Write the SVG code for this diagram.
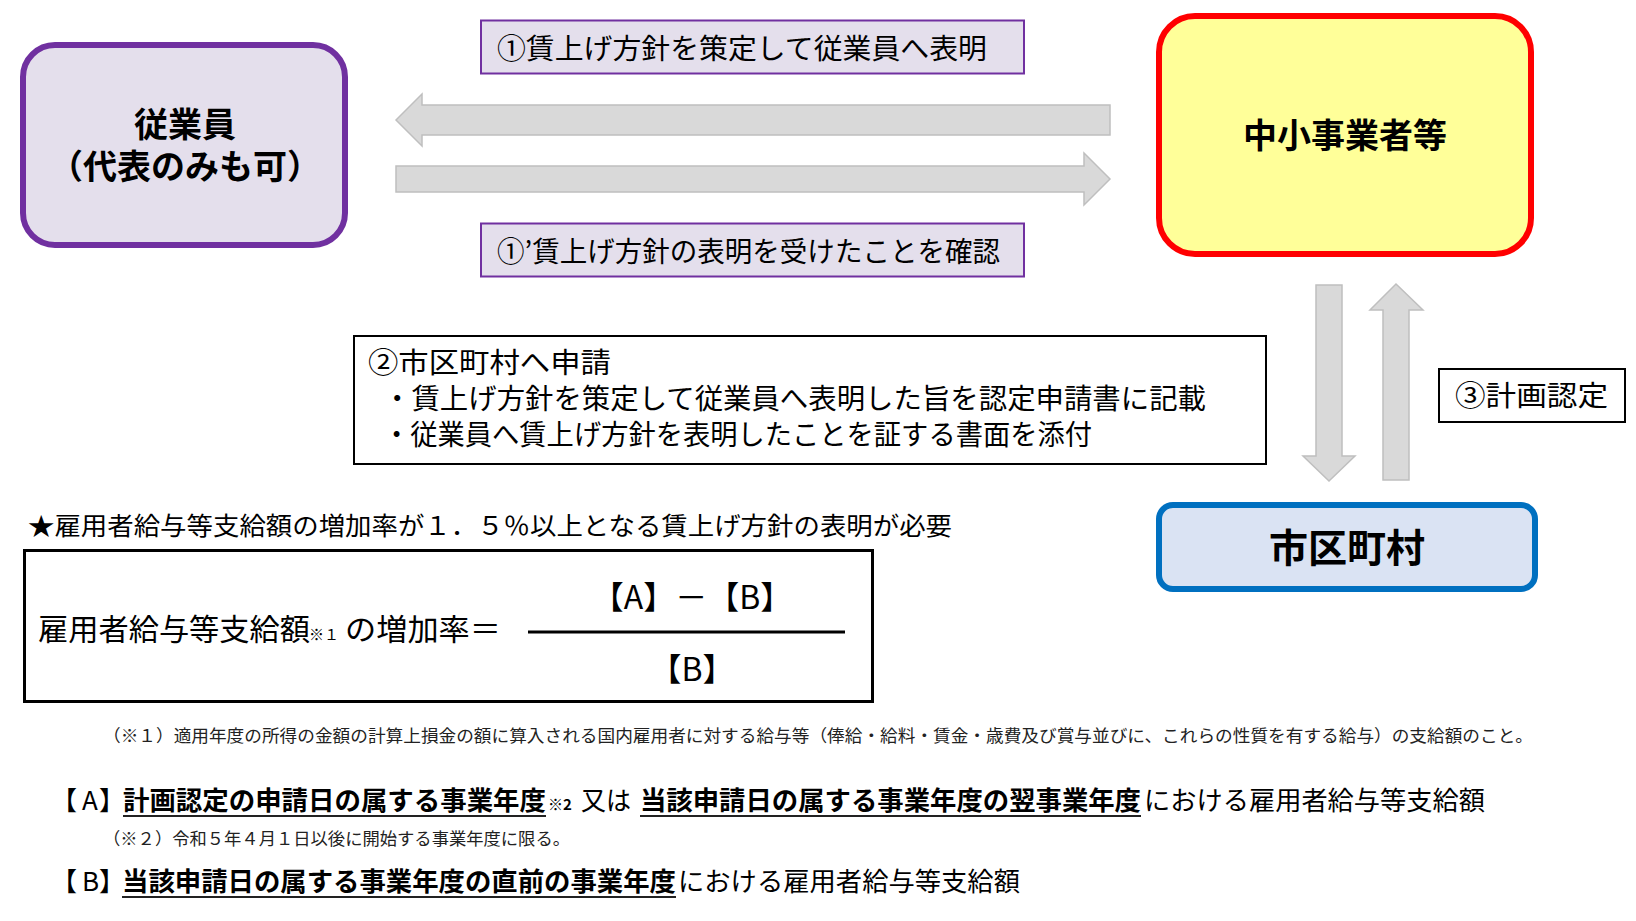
<svg xmlns="http://www.w3.org/2000/svg" width="1636" height="921" viewBox="0 0 1636 921">
<style>
text{font-family:"Noto Sans CJK JP","Noto Sans CJK SC",sans-serif;fill:#000}
.b{font-weight:bold}
.lbl{font-size:28px}
.fn{font-size:17px;fill:#222}
.ln{font-size:26px}
.arrow{fill:#D9D9D9;stroke:#BFBFBF;stroke-width:1.5}
.ul{stroke:#222;stroke-width:2}
</style>
<rect width="1636" height="921" fill="#fff"/>
<g id="connectors">
<polygon class="arrow" points="396,120 422,94 422,105 1110,105 1110,135 422,135 422,146"/>
<polygon class="arrow" points="396,166 1084,166 1084,153 1110,179 1084,205 1084,192 396,192"/>
<polygon class="arrow" points="1316,285 1342,285 1342,456 1355,456 1329,481 1303,456 1316,456"/>
<polygon class="arrow" points="1396,284 1423,310 1409,310 1409,480 1383,480 1383,310 1370,310"/>
</g>
<g id="node-employee">
<rect x="23" y="45" width="322" height="200" rx="32" fill="#E4DFEC" stroke="#7030A0" stroke-width="6"/>
<text class="b" x="185" y="137" font-size="34" text-anchor="middle">従業員</text>
<text class="b" x="185" y="179" font-size="34" text-anchor="middle">（代表のみも可）</text>
</g>
<g id="label-1">
<rect x="481" y="20.5" width="543" height="53" fill="#E4DFEC" stroke="#7030A0" stroke-width="2"/>
<text class="lbl" x="497" y="59" textLength="490" lengthAdjust="spacingAndGlyphs">①賃上げ方針を策定して従業員へ表明</text>
</g>
<g id="label-1b">
<rect x="481" y="223.5" width="543" height="53" fill="#E4DFEC" stroke="#7030A0" stroke-width="2"/>
<text class="lbl" x="497" y="262" textLength="503" lengthAdjust="spacingAndGlyphs">①’賃上げ方針の表明を受けたことを確認</text>
</g>
<g id="node-sme">
<rect x="1159" y="16" width="372" height="238" rx="36" fill="#FFFF99" stroke="#FF0000" stroke-width="6"/>
<text class="b" x="1345" y="148" font-size="34" text-anchor="middle">中小事業者等</text>
</g>
<g id="node-apply">
<rect x="354" y="336" width="912" height="128" fill="#fff" stroke="#000" stroke-width="2"/>
<text class="lbl" x="368" y="373" textLength="243" lengthAdjust="spacingAndGlyphs">②市区町村へ申請</text>
<text class="lbl" x="383" y="409" textLength="823" lengthAdjust="spacingAndGlyphs">・賃上げ方針を策定して従業員へ表明した旨を認定申請書に記載</text>
<text class="lbl" x="383" y="445" textLength="709" lengthAdjust="spacingAndGlyphs">・従業員へ賃上げ方針を表明したことを証する書面を添付</text>
</g>
<g id="label-3">
<rect x="1439" y="369" width="186" height="53" fill="#fff" stroke="#000" stroke-width="2"/>
<text class="lbl" x="1455" y="406" textLength="153" lengthAdjust="spacingAndGlyphs">③計画認定</text>
</g>
<g id="node-city">
<rect x="1159" y="505" width="376" height="84" rx="14" fill="#DAE3F3" stroke="#0070C0" stroke-width="6"/>
<text class="b" x="1347" y="562" font-size="39" text-anchor="middle">市区町村</text>
</g>
<g id="formula">
<text x="28" y="535" font-size="25" textLength="924" lengthAdjust="spacingAndGlyphs">★雇用者給与等支給額の増加率が１．５％以上となる賃上げ方針の表明が必要</text>
<rect x="24.5" y="550.5" width="848" height="151" fill="#fff" stroke="#000" stroke-width="3"/>
<text x="38" y="640" font-size="30" textLength="272" lengthAdjust="spacingAndGlyphs">雇用者給与等支給額</text>
<text x="309" y="640" font-size="15">※１</text>
<text x="345" y="640" font-size="30" textLength="156" lengthAdjust="spacingAndGlyphs">の増加率＝</text>
<line x1="528" y1="632" x2="845" y2="632" stroke="#000" stroke-width="3"/>
<text x="692" y="609" font-size="32" text-anchor="middle">【A】－【B】</text>
<text x="692" y="681" font-size="32" text-anchor="middle">【B】</text>
</g>
<g id="notes">
<text class="fn" x="103" y="742" textLength="1430" lengthAdjust="spacingAndGlyphs">（※１）適用年度の所得の金額の計算上損金の額に算入される国内雇用者に対する給与等（俸給・給料・賃金・歳費及び賞与並びに、これらの性質を有する給与）の支給額のこと。</text>
<text class="ln" y="810"><tspan x="51">【</tspan><tspan x="82">A</tspan><tspan x="99">】</tspan></text>
<text class="ln b" x="123" y="810" textLength="423" lengthAdjust="spacingAndGlyphs">計画認定の申請日の属する事業年度</text>
<line class="ul" x1="123" y1="816" x2="546" y2="816"/>
<text x="548" y="810" font-size="15" class="b">※2</text>
<text class="ln" x="581" y="810" textLength="50" lengthAdjust="spacingAndGlyphs">又は</text>
<text class="ln b" x="640" y="810" textLength="501" lengthAdjust="spacingAndGlyphs">当該申請日の属する事業年度の翌事業年度</text>
<line class="ul" x1="640" y1="816" x2="1141" y2="816"/>
<text class="ln" x="1144" y="810" textLength="341" lengthAdjust="spacingAndGlyphs">における雇用者給与等支給額</text>
<text class="fn" x="103" y="845" textLength="467" lengthAdjust="spacingAndGlyphs">（※２）令和５年４月１日以後に開始する事業年度に限る。</text>
<text class="ln" y="891"><tspan x="51">【</tspan><tspan x="82">B</tspan><tspan x="99">】</tspan></text>
<text class="ln b" x="122" y="891" textLength="554" lengthAdjust="spacingAndGlyphs">当該申請日の属する事業年度の直前の事業年度</text>
<line class="ul" x1="122" y1="897" x2="676" y2="897"/>
<text class="ln" x="678" y="891" textLength="342" lengthAdjust="spacingAndGlyphs">における雇用者給与等支給額</text>
</g>
</svg>
